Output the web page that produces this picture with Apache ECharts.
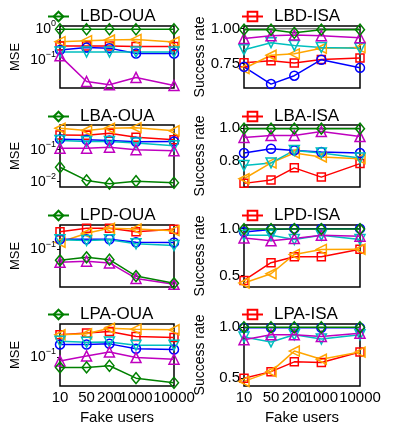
<!DOCTYPE html>
<html><head><meta charset="utf-8">
<script src="https://cdn.jsdelivr.net/npm/echarts@6/dist/echarts.min.js"></script>
<style>html,body{margin:0;padding:0;background:#fff}#c{width:399px;height:426px}</style>
</head><body><div id="c"></div>
<script>
// ---------- DATA ----------
const fakeUsers = [10, 50, 200, 1000, 10000];
const panelTitles = ['LBD-OUA','LBD-ISA','LBA-OUA','LBA-ISA','LPD-OUA','LPD-ISA','LPA-OUA','LPA-ISA'];

// LBD-OUA (MSE)
const lbdOuaRed     = [0.28, 0.28, 0.28, 0.27, 0.27];
const lbdOuaOrange  = [0.39, 0.42, 0.44, 0.46, 0.38];
const lbdOuaBlue    = [0.21, 0.25, 0.24, 0.16, 0.16];
const lbdOuaCyan    = [0.18, 0.18, 0.18, 0.18, 0.18];
const lbdOuaMagenta = [0.135, 0.020, 0.0156, 0.027, 0.0148];
const lbdOuaGreen   = [0.98, 0.98, 0.98, 0.98, 0.98];
// LBD-ISA (success rate)
const lbdIsaGray    = [1, 1, 1, 1, 1];
const lbdIsaRed     = [0.757, 0.77, 0.755, 0.78, 0.79];
const lbdIsaOrange  = [0.715, 0.81, 0.82, 0.86, 0.865];
const lbdIsaBlue    = [0.727, 0.604, 0.664, 0.778, 0.72];
const lbdIsaCyan    = [0.85, 0.90, 0.88, 0.866, 0.86];
const lbdIsaMagenta = [0.93, 0.95, 0.954, 0.95, 0.935];
const lbdIsaGreen   = [0.993, 0.993, 0.97, 0.993, 0.993];
// LBA-OUA
const lbaOuaRed     = [0.29, 0.284, 0.33, 0.247, 0.204];
const lbaOuaOrange  = [0.47, 0.40, 0.47, 0.49, 0.39];
const lbaOuaBlue    = [0.214, 0.204, 0.195, 0.178, 0.182];
const lbaOuaCyan    = [0.195, 0.182, 0.182, 0.162, 0.133];
const lbaOuaMagenta = [0.112, 0.112, 0.12, 0.10, 0.093];
const lbaOuaGreen   = [0.0284, 0.011, 0.0087, 0.0104, 0.0093];
// LBA-ISA
const lbaIsaGray    = [1, 1, 1, 1, 1];
const lbaIsaRed     = [0.666, 0.686, 0.76, 0.704, 0.786];
const lbaIsaOrange  = [0.694, 0.79, 0.85, 0.826, 0.816];
const lbaIsaBlue    = [0.85, 0.876, 0.866, 0.856, 0.85];
const lbaIsaCyan    = [0.774, 0.79, 0.866, 0.85, 0.82];
const lbaIsaMagenta = [0.944, 0.956, 0.956, 0.98, 0.95];
const lbaIsaGreen   = [0.998, 0.998, 0.998, 0.998, 0.998];
// LPD-OUA
const lpdOuaRed     = [0.225, 0.263, 0.263, 0.225, 0.251];
const lpdOuaOrange  = [0.138, 0.209, 0.263, 0.255, 0.236];
const lpdOuaBlue    = [0.158, 0.158, 0.158, 0.138, 0.136];
const lpdOuaCyan    = [0.154, 0.149, 0.154, 0.128, 0.118];
const lpdOuaMagenta = [0.054, 0.0567, 0.0525, 0.0255, 0.0194];
const lpdOuaGreen   = [0.0593, 0.068, 0.061, 0.0284, 0.0203];
// LPD-ISA
const lpdIsaRed     = [0.447, 0.637, 0.70, 0.70, 0.78];
const lpdIsaOrange  = [0.42, 0.518, 0.725, 0.778, 0.78];
const lpdIsaBlue    = [0.965, 0.99, 1.0, 1.0, 1.0];
const lpdIsaCyan    = [0.93, 0.93, 0.884, 0.93, 0.884];
const lpdIsaMagenta = [0.9, 0.87, 0.894, 0.93, 0.92];
const lpdIsaGreen   = [0.995, 0.995, 0.995, 0.995, 0.995];
// LPA-OUA
const lpaOuaRed     = [0.284, 0.307, 0.331, 0.263, 0.251];
const lpaOuaOrange  = [0.284, 0.297, 0.386, 0.369, 0.358];
const lpaOuaBlue    = [0.179, 0.179, 0.185, 0.147, 0.142];
const lpaOuaCyan    = [0.209, 0.2, 0.203, 0.174, 0.174];
const lpaOuaMagenta = [0.083, 0.105, 0.126, 0.097, 0.0898];
const lpaOuaGreen   = [0.0612, 0.0612, 0.066, 0.0369, 0.0297];
// LPA-ISA
const lpaIsaRed     = [0.5, 0.564, 0.66, 0.654, 0.756];
const lpaIsaOrange  = [0.468, 0.564, 0.766, 0.686, 0.756];
const lpaIsaBlue    = [0.995, 0.995, 0.995, 0.995, 0.995];
const lpaIsaCyan    = [0.904, 0.856, 0.926, 0.885, 0.926];
const lpaIsaMagenta = [0.878, 0.926, 0.926, 0.91, 0.942];
const lpaIsaGreen   = [1, 1, 1, 1, 1];

// y-axis tick labels / ranges
const mseTicks = [0.01, 0.1, 1];
const lbdIsaTicks = [0.75, 1.0];
const lbaIsaTicks = [0.8, 1.0];
const lpIsaTicks = [0.5, 1.0];
const yRanges = [[0.0123, 1.25], [0.576, 1.019], [0.00684, 0.593], [0.644, 1.02],
                 [0.0171, 0.307], [0.377, 1.039], [0.0255, 0.471], [0.423, 1.032]];

// ---------- STYLE ----------
const STY = {
  gray:    {color:'#808080', symbol:'none'},
  red:     {color:'#ff0000', symbol:'rect', size:8},
  orange:  {color:'#ffa500', symbol:'triangle', size:10, rotate:90},
  blue:    {color:'#0000ff', symbol:'circle', size:9},
  cyan:    {color:'#00bfbf', symbol:'triangle', size:10, rotate:180},
  magenta: {color:'#bf00bf', symbol:'triangle', size:10},
  green:   {color:'#008000', symbol:'diamond', size:[9,11]}
};

const panels = [
  {red:lbdOuaRed, orange:lbdOuaOrange, blue:lbdOuaBlue, cyan:lbdOuaCyan, magenta:lbdOuaMagenta, green:lbdOuaGreen},
  {gray:lbdIsaGray, red:lbdIsaRed, orange:lbdIsaOrange, blue:lbdIsaBlue, cyan:lbdIsaCyan, magenta:lbdIsaMagenta, green:lbdIsaGreen},
  {red:lbaOuaRed, orange:lbaOuaOrange, blue:lbaOuaBlue, cyan:lbaOuaCyan, magenta:lbaOuaMagenta, green:lbaOuaGreen},
  {gray:lbaIsaGray, red:lbaIsaRed, orange:lbaIsaOrange, blue:lbaIsaBlue, cyan:lbaIsaCyan, magenta:lbaIsaMagenta, green:lbaIsaGreen},
  {red:lpdOuaRed, orange:lpdOuaOrange, blue:lpdOuaBlue, cyan:lpdOuaCyan, magenta:lpdOuaMagenta, green:lpdOuaGreen},
  {red:lpdIsaRed, orange:lpdIsaOrange, blue:lpdIsaBlue, cyan:lpdIsaCyan, magenta:lpdIsaMagenta, green:lpdIsaGreen},
  {red:lpaOuaRed, orange:lpaOuaOrange, blue:lpaOuaBlue, cyan:lpaOuaCyan, magenta:lpaOuaMagenta, green:lpaOuaGreen},
  {red:lpaIsaRed, orange:lpaIsaOrange, blue:lpaIsaBlue, cyan:lpaIsaCyan, magenta:lpaIsaMagenta, green:lpaIsaGreen}
];
const isaTicks = [null, lbdIsaTicks, null, lbaIsaTicks, null, lpIsaTicks, null, lpIsaTicks];
const isaDigits = [0, 2, 0, 1, 0, 1, 0, 1];

const FONT = 'Liberation Sans, Arial, sans-serif';
const gridLefts = [60, 244], gridWidths = [114, 116];
const gridTops = [26, 125, 225, 324], gridH = 62;
const legendCenters = [12, 112, 211, 310];

const grid = [], xAxis = [], yAxis = [], series = [], legend = [];
panels.forEach((p, i) => {
  const row = Math.floor(i / 2), col = i % 2;
  const isMSE = col === 0, bottom = row === 3;
  grid.push({left: gridLefts[col], top: gridTops[row], width: gridWidths[col], height: gridH,
             show: true, borderColor: '#000', borderWidth: 1.5, containLabel: false});
  xAxis.push({
    gridIndex: i, type: 'value', min: 1, max: 4,
    axisLine: {show: false}, splitLine: {show: false},
    axisTick: {show: false},
    axisLabel: {show: bottom, customValues: fakeUsers.map(v => Math.log10(v)),
                formatter: v => String(Math.round(Math.pow(10, v))),
                fontSize: 15, color: '#000', fontFamily: FONT, margin: 4},
    name: bottom ? 'Fake users' : '', nameLocation: 'middle', nameGap: 24,
    nameTextStyle: {fontSize: 15, color: '#000', fontFamily: FONT}
  });
  if (isMSE) {
    yAxis.push({
      gridIndex: i, type: 'log', min: yRanges[i][0], max: yRanges[i][1],
      axisLine: {show: false}, splitLine: {show: false}, minorTick: {show: false},
      axisTick: {show: true, length: 3, lineStyle: {color: '#000'}, customValues: mseTicks},
      axisLabel: {customValues: mseTicks, margin: 4, fontFamily: FONT, color: '#000',
        formatter: v => { const e = Math.round(Math.log10(v));
          return '{b|10}{s|' + (e < 0 ? '\u2212' + (-e) : String(e)) + '}'; },
        rich: {b: {fontSize: 14, color: '#000', fontFamily: FONT},
               s: {fontSize: 9, color: '#000', fontFamily: FONT, padding: [0, 0, 10, 0]}}},
      name: 'MSE', nameLocation: 'middle', nameGap: 38,
      nameTextStyle: {fontSize: 13, color: '#000', fontFamily: FONT}
    });
  } else {
    const t = isaTicks[i], d = isaDigits[i];
    yAxis.push({
      gridIndex: i, type: 'value', min: yRanges[i][0], max: yRanges[i][1],
      axisLine: {show: false}, splitLine: {show: false},
      axisTick: {show: true, length: 3, lineStyle: {color: '#000'}, customValues: t},
      axisLabel: {customValues: t, margin: 4, fontSize: 15, color: '#000', fontFamily: FONT,
                  formatter: v => v.toFixed(d)},
      name: 'Success rate', nameLocation: 'middle', nameGap: 37,
      nameTextStyle: {fontSize: 14, color: '#000', fontFamily: FONT}
    });
  }
  const legendKey = isMSE ? 'green' : 'red';
  Object.keys(p).forEach(k => {
    const s = STY[k];
    series.push({
      type: 'line', xAxisIndex: i, yAxisIndex: i,
      name: k === legendKey ? panelTitles[i] : panelTitles[i] + '-' + k,
      data: fakeUsers.map((u, j) => [Math.log10(u), p[k][j]]),
      symbol: s.symbol, symbolSize: s.size || 0, symbolRotate: s.rotate || 0,
      showSymbol: s.symbol !== 'none',
      color: s.color,
      lineStyle: {color: s.color, width: 1.5},
      itemStyle: {color: 'rgba(255,255,255,0)', borderColor: s.color, borderWidth: 1.5},
      emphasis: {disabled: true}, animation: false, silent: true
    });
  });
  legend.push({
    data: [panelTitles[i]], left: col === 0 ? 42 : 236, top: legendCenters[row] - 9,
    itemWidth: 21, itemHeight: 12, selectedMode: false,
    textStyle: {fontSize: 17, color: '#000', fontFamily: FONT, padding: [0, 0, 0, 6]}
  });
});

const chart = echarts.init(document.getElementById('c'), null, {renderer: 'canvas'});
chart.setOption({animation: false, backgroundColor: '#fff', grid, xAxis, yAxis, series, legend});
</script></body></html>
